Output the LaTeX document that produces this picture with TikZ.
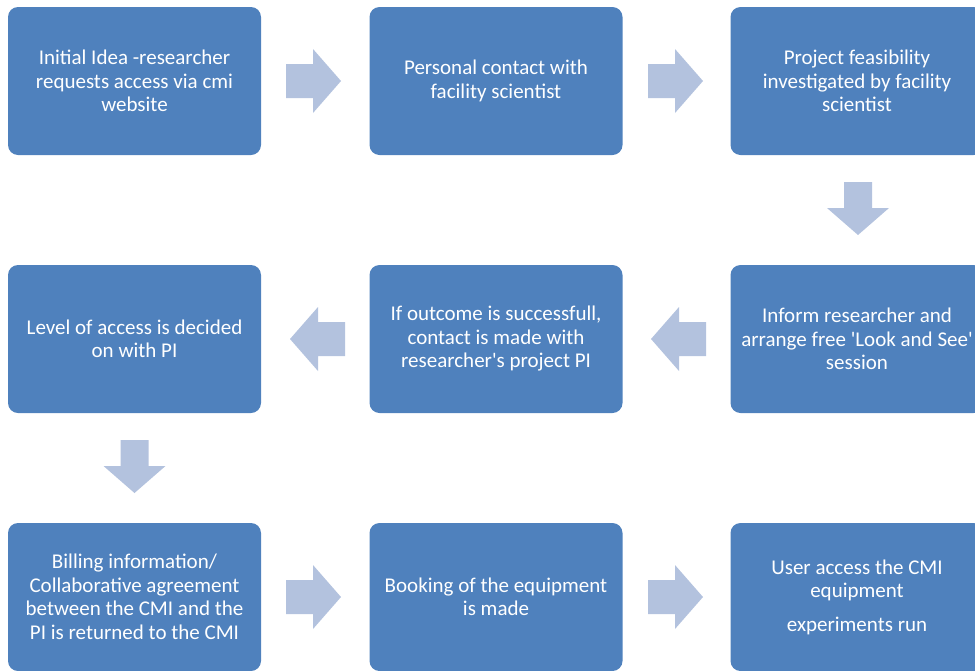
\documentclass[tikz,border=0pt]{standalone}
\usepackage{fontspec}
\setmainfont{Carlito}[Ligatures=TeXOff]
\definecolor{boxblue}{HTML}{4F81BD}
\definecolor{arrowblue}{HTML}{B3C2DE}
\begin{document}
\begin{tikzpicture}[x=1pt,y=-1pt,
  flowbox/.style={fill=boxblue,draw=none,rounded corners=10pt,minimum width=253pt,minimum height=148pt,inner sep=0pt,text=white,align=center,font=\fontsize{21}{23.5}\selectfont},
  rarrow/.pic={\fill[arrowblue] (0,-17) -- (27,-17) -- (27,-32) -- (55,0) -- (27,32) -- (27,17) -- (0,17) -- cycle;},
  larrow/.pic={\fill[arrowblue] (0,-17) -- (-27,-17) -- (-27,-32) -- (-55,0) -- (-27,32) -- (-27,17) -- (0,17) -- cycle;},
  darrow/.pic={\fill[arrowblue] (-14,0) -- (-14,26) -- (-31,26) -- (0,53) -- (31,26) -- (14,26) -- (14,0) -- cycle;}
]
\useasboundingbox (0,0) rectangle (975,670);
\clip (0,0) rectangle (975,670);
\node[flowbox] (b1) at (134.5,81) {Initial Idea -researcher\\requests access via cmi\\website};
\node[flowbox] (b2) at (496,81) {Personal contact with\\facility scientist};
\node[flowbox] (b3) at (857,81) {Project feasibility\\investigated by facility\\scientist};
\node[flowbox] (b4) at (857,339) {Inform researcher and\\arrange free 'Look and See'\\session};
\node[flowbox] (b5) at (496,339) {If outcome is successfull,\\contact is made with\\researcher's project PI};
\node[flowbox] (b6) at (134.5,339) {Level of access is decided\\on with PI};
\node[flowbox] (b7) at (134.5,597) {Billing information/\\Collaborative agreement\\between the CMI and the\\PI is returned to the CMI};
\node[flowbox] (b8) at (496,597) {Booking of the equipment\\is made};
\node[flowbox] (b9) at (857,597) {User access the CMI\\equipment\\[10pt]experiments run};
\pic at (286,81) {rarrow};
\pic at (648,81) {rarrow};
\pic at (858,182) {darrow};
\pic at (706,339) {larrow};
\pic at (345,339) {larrow};
\pic at (134.5,440) {darrow};
\pic at (286,597) {rarrow};
\pic at (648,597) {rarrow};
\end{tikzpicture}
\end{document}
